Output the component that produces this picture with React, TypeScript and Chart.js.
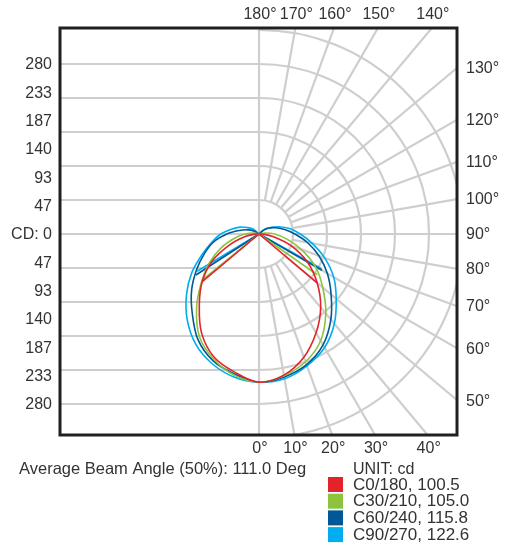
import { useEffect, useRef } from "react";
import { Chart, registerables } from "chart.js";

Chart.register(...registerables);

// ---- data ----
const gammaDeg = [0, 10, 20, 30, 40, 50, 60, 70, 80, 90, 100, 110, 120, 130];
const seriesNames = ["C0/180", "C30/210", "C60/240", "C90/270"];
const beamAngles = [100.5, 105.0, 115.8, 122.6];
const seriesColors = ["#e3222b", "#8cc43f", "#005896", "#00aeef"];

// intensities (cd) on the right half-plane (C0, C30, C60, C90)
const c0 = [245, 236, 216, 188, 158, 125, 92, 56, 23, 5, 0, 0, 0, 0];
const c30 = [244, 237, 224, 203, 171, 137, 107, 74, 46, 26, 10, 0, 0, 0];
const c60 = [244, 239, 229, 211, 184, 155, 130, 105, 81, 59, 43, 30, 20, 10];
const c90 = [245, 242, 231, 216, 193, 166, 142, 115, 89, 68, 51, 35, 21, 13];
// intensities (cd) on the left half-plane (C180, C210, C240, C270)
const c180 = [244, 231, 216, 189, 153, 122, 89, 51, 23, 5, 0, 0, 0, 0];
const c210 = [244, 236, 219, 196, 160, 124, 94, 66, 41, 23, 8, 0, 0, 0];
const c240 = [244, 234, 222, 201, 171, 145, 119, 96, 76, 53, 33, 20, 10, 0];
const c270 = [244, 239, 227, 209, 184, 156, 128, 100, 79, 63, 46, 33, 21, 12];

// chord end points (gamma, cd)
const chordGammaLeft = [50, 51, 57, 59];
const chordCdLeft = [122, 120, 124, 119];
const chordGammaRight = [50, 55, 60, 61];
const chordCdRight = [125, 117, 120, 118];

const cdTickValues = [280, 233.33, 186.67, 140, 93.33, 46.67, 0, -46.67, -93.33, -140, -186.67, -233.33, -280];
const cdTickLabels = ["280", "233", "187", "140", "93", "47", "CD: 0", "47", "93", "140", "187", "233", "280"];
const topAngleLabels = [180, 170, 160, 150, 140];
const rightAngleLabels = [130, 120, 110, 100, 90, 80, 70, 60, 50];
const bottomAngleLabels = [0, 10, 20, 30, 40];
const ringStepCd = 56;
const ringCount = 6;
const radialStepDeg = 10;
const beamText = "Average Beam Angle (50%): 111.0 Deg";
const unitText = "UNIT: cd";

const rightPlanes = [c0, c30, c60, c90];
const leftPlanes = [c180, c210, c240, c270];

const rad = (d: number) => (d * Math.PI) / 180;
const pt = (g: number, v: number, side: number) => ({
  x: side * v * Math.sin(rad(g)),
  y: -v * Math.cos(rad(g)),
});

function arcPoints(i: number) {
  const left = leftPlanes[i];
  const right = rightPlanes[i];
  const lastNonZero = (arr: number[]) => {
    let n = arr.length - 1;
    while (n > 0 && arr[n] === 0 && arr[n - 1] === 0) n--;
    return n;
  };
  const nl = lastNonZero(left);
  const nr = lastNonZero(right);
  const pts: { x: number; y: number }[] = [];
  if (left[nl] !== 0) pts.push({ x: 0, y: 0 });
  for (let k = nl; k >= 0; k--) pts.push(pt(gammaDeg[k], left[k], -1));
  for (let k = 1; k <= nr; k++) pts.push(pt(gammaDeg[k], right[k], 1));
  if (right[nr] !== 0) pts.push({ x: 0, y: 0 });
  return pts;
}

function chordPoints(i: number) {
  return [pt(chordGammaLeft[i], chordCdLeft[i], -1), { x: 0, y: 0 }, pt(chordGammaRight[i], chordCdRight[i], 1)];
}

const FONT = '"Liberation Sans", Arial, sans-serif';
const TEXT = "#333333";
const GRID = "#cecece";

const polarPlugin = {
  id: "polarGrid",
  beforeDatasetsDraw(chart: any) {
    const { ctx, chartArea: a, scales } = chart;
    const xs = scales.x;
    const ys = scales.y;
    const cx = xs.getPixelForValue(0);
    const cy = ys.getPixelForValue(0);
    const ringPx = (k: number) => xs.getPixelForValue(k * ringStepCd) - cx;
    ctx.save();
    ctx.beginPath();
    ctx.rect(a.left, a.top, a.right - a.left, a.bottom - a.top);
    ctx.clip();
    ctx.strokeStyle = GRID;
    ctx.lineWidth = 2.2;
    for (let k = -5; k <= 5; k++) {
      const y = ys.getPixelForValue(k * ringStepCd);
      ctx.beginPath();
      ctx.moveTo(a.left, y);
      ctx.lineTo(cx, y);
      ctx.stroke();
    }
    ctx.beginPath();
    ctx.moveTo(cx, a.top);
    ctx.lineTo(cx, a.bottom);
    ctx.stroke();
    for (let k = 1; k <= ringCount; k++) {
      ctx.beginPath();
      ctx.arc(cx, cy, ringPx(k), -Math.PI / 2, Math.PI / 2);
      ctx.stroke();
    }
    const r0 = ringPx(1);
    for (let g = radialStepDeg; g < 180; g += radialStepDeg) {
      const dx = Math.sin(rad(g));
      const dy = Math.cos(rad(g));
      ctx.beginPath();
      ctx.moveTo(cx + r0 * dx, cy + r0 * dy);
      ctx.lineTo(cx + 1200 * dx, cy + 1200 * dy);
      ctx.stroke();
    }
    ctx.restore();
  },
  afterDatasetsDraw(chart: any) {
    const { ctx, chartArea: a, scales } = chart;
    const xs = scales.x;
    const ys = scales.y;
    const cx = xs.getPixelForValue(0);
    const cy = ys.getPixelForValue(0);
    ctx.save();
    ctx.strokeStyle = "#231f20";
    ctx.lineWidth = 3;
    ctx.strokeRect(a.left, a.top, a.right - a.left, a.bottom - a.top);

    ctx.fillStyle = TEXT;
    ctx.font = `16px ${FONT}`;
    ctx.textBaseline = "middle";
    ctx.textAlign = "right";
    cdTickValues.forEach((v, i) => {
      ctx.fillText(cdTickLabels[i], a.left - 8, ys.getPixelForValue(v) + 1);
    });
    ctx.textAlign = "center";
    topAngleLabels.forEach((g) => {
      const t = (a.top - cy) / Math.cos(rad(g));
      const x = cx + t * Math.sin(rad(g));
      ctx.fillText(`${g}°`, x + 1, a.top - 13);
    });
    bottomAngleLabels.forEach((g) => {
      const t = (a.bottom - cy) / Math.cos(rad(g));
      const x = cx + t * Math.sin(rad(g));
      ctx.fillText(`${g}°`, x + 1, a.bottom + 14);
    });
    ctx.textAlign = "left";
    rightAngleLabels.forEach((g) => {
      const t = (a.right - cx) / Math.sin(rad(g));
      const y = cy + t * Math.cos(rad(g));
      ctx.fillText(`${g}°`, a.right + 9, y + 1);
    });
    ctx.font = `16.5px ${FONT}`;
    ctx.fillText(beamText, 19, 469);
    ctx.font = `16px ${FONT}`;
    ctx.fillText(unitText, 353, 470);
    ctx.font = `17px ${FONT}`;
    seriesNames.forEach((_, i) => {
      const ds = chart.data.datasets[i];
      const top = 477 + i * 16.7;
      ctx.fillStyle = ds.borderColor;
      ctx.fillRect(328, top, 15, 15);
      ctx.fillStyle = TEXT;
      ctx.fillText(ds.label, 353, top + 8);
    });
    ctx.restore();
  },
};

export default function App() {
  const ref = useRef<HTMLCanvasElement | null>(null);
  useEffect(() => {
    if (!ref.current) return;
    const arcs = seriesNames.map((n, i) => ({
      label: `${n}, ${beamAngles[i].toFixed(1)}`,
      data: arcPoints(i),
      showLine: true,
      borderColor: seriesColors[i],
      backgroundColor: seriesColors[i],
      borderWidth: 1.6,
      pointRadius: 0,
      pointHoverRadius: 0,
      tension: 0.35,
      fill: false,
    }));
    const chords = seriesNames.map((n, i) => ({
      label: `${n} chord`,
      data: chordPoints(i),
      showLine: true,
      borderColor: seriesColors[i],
      backgroundColor: seriesColors[i],
      borderWidth: 1.6,
      pointRadius: 0,
      pointHoverRadius: 0,
      tension: 0,
      fill: false,
    }));
    const chart = new Chart(ref.current, {
      type: "scatter",
      data: { datasets: [...arcs, ...chords] },
      options: {
        animation: false,
        responsive: true,
        maintainAspectRatio: false,
        events: [],
        layout: { padding: { left: 60, top: 28, right: 58, bottom: 111 } },
        plugins: { legend: { display: false }, tooltip: { enabled: false } },
        scales: {
          x: { type: "linear", min: -327.8, max: 326.1, display: false },
          y: { type: "linear", min: -331.1, max: 339.3, display: false },
        },
      },
      plugins: [polarPlugin],
    });
    return () => chart.destroy();
  }, []);
  return (
    <div style={{ position: "fixed", left: 0, top: 0, width: 515, height: 546, background: "#fff" }}>
      <canvas ref={ref} />
    </div>
  );
}
